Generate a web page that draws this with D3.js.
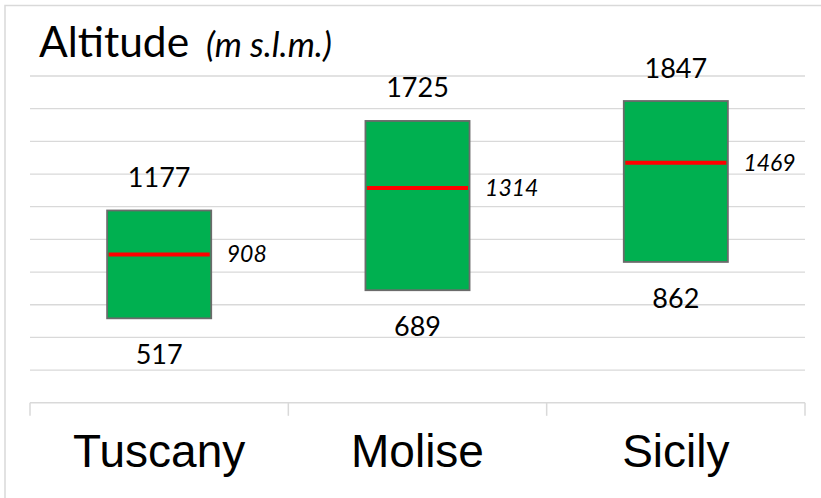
<!DOCTYPE html>
<html>
<head>
<meta charset="utf-8">
<script src="https://cdn.jsdelivr.net/npm/d3@7"></script>
<style>
  html, body { margin: 0; padding: 0; background: #fff; }
  svg { display: block; }
</style>
</head>
<body>
<svg id="chart" width="821" height="498"></svg>
<script>
// Altitude range per region: lowest, highest and mean elevation (m s.l.m.)
const regions = ["Tuscany", "Molise", "Sicily"];
const minAltitude = [517, 689, 862];
const maxAltitude = [1177, 1725, 1847];
const meanAltitude = [908, 1314, 1469];
const yTicks = [200, 400, 600, 800, 1000, 1200, 1400, 1600, 1800, 2000];

const W = 821, H = 498;
const svg = d3.select("#chart");

// outer frame
svg.append("rect")
  .attr("x", 5).attr("y", 5.5)
  .attr("width", W + 20).attr("height", H + 20)
  .attr("fill", "none").attr("stroke", "#d9d9d9").attr("stroke-width", 1.5);

const plot = { left: 30, right: 805, top: 76, bottom: 402.8 };

const x = d3.scaleBand().domain(regions).range([plot.left, plot.right]).padding(0);
const y = d3.scaleLinear().domain([0, 2000]).range([plot.bottom, plot.top]);
const barW = x.bandwidth() * 0.403;

// horizontal gridlines
svg.append("g").selectAll("line").data(yTicks).join("line")
  .attr("x1", plot.left).attr("x2", plot.right)
  .attr("y1", d => y(d)).attr("y2", d => y(d))
  .attr("stroke", "#d9d9d9").attr("stroke-width", 1.3);

// category axis with ticks at band boundaries
const xAxis = svg.append("g").attr("transform", `translate(0,${plot.bottom})`);
xAxis.append("line")
  .attr("x1", plot.left).attr("x2", plot.right)
  .attr("stroke", "#d9d9d9").attr("stroke-width", 1.5);
const bounds = regions.map(r => x(r)).concat([x(regions[regions.length - 1]) + x.bandwidth()]);
xAxis.selectAll("line.tick").data(bounds).join("line")
  .attr("class", "tick")
  .attr("x1", d => d).attr("x2", d => d)
  .attr("y1", 0).attr("y2", 13)
  .attr("stroke", "#d9d9d9").attr("stroke-width", 1.5);
xAxis.selectAll("text").data(regions).join("text")
  .attr("x", d => x(d) + x.bandwidth() / 2)
  .attr("y", 64.5)
  .attr("text-anchor", "middle")
  .attr("font-family", "'Liberation Sans', Arial, sans-serif")
  .attr("font-size", 46)
  .attr("fill", "#000")
  .text(d => d);

const cx = i => x(regions[i]) + x.bandwidth() / 2;
const idx = regions.map((_, i) => i);

// floating range bars
svg.append("g").selectAll("rect").data(idx).join("rect")
  .attr("x", i => cx(i) - barW / 2)
  .attr("y", i => y(maxAltitude[i]))
  .attr("width", barW)
  .attr("height", i => y(minAltitude[i]) - y(maxAltitude[i]))
  .attr("fill", "#00b050")
  .attr("stroke", "#6b6b6b")
  .attr("stroke-width", 1.8);

// mean markers
svg.append("g").selectAll("line").data(idx).join("line")
  .attr("x1", i => cx(i) - barW / 2 + 1.5)
  .attr("x2", i => cx(i) + barW / 2 - 1.5)
  .attr("y1", i => y(meanAltitude[i]))
  .attr("y2", i => y(meanAltitude[i]))
  .attr("stroke", "#ff0000").attr("stroke-width", 4);

const labelFont = "Lato, 'Open Sans', sans-serif";

// maximum labels
svg.append("g").selectAll("text").data(idx).join("text")
  .attr("x", i => cx(i))
  .attr("y", i => y(maxAltitude[i]) - 23.5)
  .attr("text-anchor", "middle")
  .attr("font-family", labelFont).attr("font-size", 27).attr("fill", "#000")
  .text(i => maxAltitude[i]);

// minimum labels
svg.append("g").selectAll("text").data(idx).join("text")
  .attr("x", i => cx(i))
  .attr("y", i => y(minAltitude[i]) + 46)
  .attr("text-anchor", "middle")
  .attr("font-family", labelFont).attr("font-size", 27).attr("fill", "#000")
  .text(i => minAltitude[i]);

// mean labels
svg.append("g").selectAll("text").data(idx).join("text")
  .attr("x", i => cx(i) + barW / 2 + 15.5)
  .attr("y", i => y(meanAltitude[i]) + 8)
  .attr("text-anchor", "start")
  .attr("font-family", labelFont).attr("font-size", 23)
  .attr("font-style", "italic").attr("fill", "#000")
  .text(i => meanAltitude[i]);

// title
const title = svg.append("text")
  .attr("x", 39).attr("y", 57.3)
  .attr("font-family", labelFont).attr("fill", "#000");
title.append("tspan").attr("font-size", 42.5).text("Altitude");
title.append("tspan").attr("font-size", 34.5).attr("font-style", "italic")
  .attr("dx", 17).text("(m s.l.m.)");
</script>
</body>
</html>
